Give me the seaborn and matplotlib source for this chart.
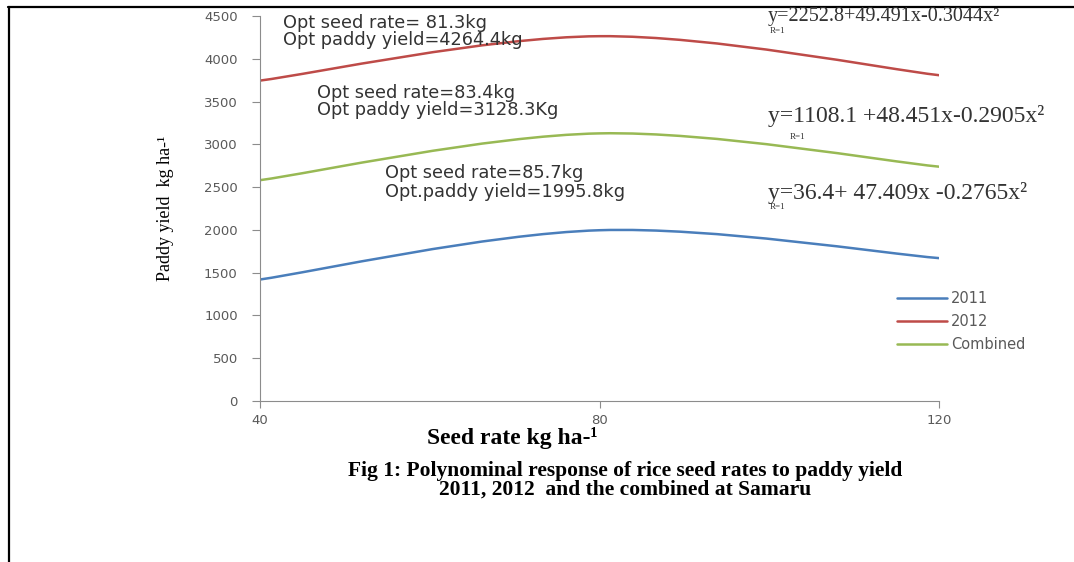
import numpy as np
import pandas as pd
import matplotlib
matplotlib.use("Agg")
import matplotlib.pyplot as plt
from matplotlib.path import Path
from matplotlib.patches import PathPatch
from matplotlib.lines import Line2D
import seaborn as sns

# Donnees
seed_rate = [40, 80, 120]
yield_2011 = [1420, 1996, 1670]
yield_2012 = [3745, 4264, 3808]
yield_combined = [2581, 3128, 2739]
series_names = ["2011", "2012", "Combined"]
series_colors = ["#4A7EBB", "#BE4B48", "#98B954"]
y_ticks = list(range(0, 4501, 500))
x_ticks = [40, 80, 120]

df = pd.DataFrame({
    "seed": seed_rate * 3,
    "yield": yield_2011 + yield_2012 + yield_combined,
    "season": [s for s in series_names for _ in seed_rate],
})

sns.set_style("white")
plt.rcParams["font.family"] = ["DejaVu Sans"]

W, H = 1074, 562
fig = plt.figure(figsize=(W / 100, H / 100), dpi=100)
ax = fig.add_axes([260 / W, 1 - 401 / H, 679 / W, 385 / H])


def smooth_path(xs, ys):
    # courbe lissee type Excel (Catmull-Rom -> Bezier) passant par les points
    pts = np.column_stack([xs, ys]).astype(float)
    n = len(pts)
    verts = [pts[0]]
    codes = [Path.MOVETO]
    for i in range(n - 1):
        p0 = pts[max(i - 1, 0)]
        p1 = pts[i]
        p2 = pts[i + 1]
        p3 = pts[min(i + 2, n - 1)]
        verts += [p1 + (p2 - p0) / 6, p2 - (p3 - p1) / 6, p2]
        codes += [Path.CURVE4] * 3
    return Path(verts, codes)


sns.lineplot(data=df, x="seed", y="yield", hue="season", hue_order=series_names,
             palette=series_colors, lw=1.8, ax=ax, legend=False)
for line in list(ax.lines):
    p = smooth_path(line.get_xdata(), line.get_ydata())
    ax.add_patch(PathPatch(p, fill=False, edgecolor=line.get_color(),
                           lw=line.get_linewidth(), capstyle="round"))
    line.set_visible(False)

ax.set_xlim(40, 120)
ax.set_ylim(0, 4500)
ax.set_xticks(x_ticks)
ax.set_yticks(y_ticks)
for s in ["top", "right"]:
    ax.spines[s].set_visible(False)
for s in ["left", "bottom"]:
    ax.spines[s].set_color("#8c8c8c")
    ax.spines[s].set_linewidth(0.8)
ax.tick_params(axis="y", direction="out", length=6, width=0.8, color="#8c8c8c",
               labelcolor="#595959", labelsize=9.5, pad=10, left=True)
ax.tick_params(axis="x", direction="out", length=5, width=0.8, color="#8c8c8c",
               labelcolor="#595959", labelsize=9.5, pad=4, bottom=True)

ax.set_ylabel("Paddy yield  kg ha-¹", family="Liberation Serif", fontsize=13, color="black")
ax.yaxis.set_label_coords(-0.126, 0.5)
ax.set_xlabel("Seed rate kg ha-¹", family="Liberation Serif",
              fontsize=17, fontweight="bold", color="black")
ax.xaxis.set_label_coords(0.371, -0.067)

# legende
handles = [Line2D([], [], color=c, lw=1.8) for c in series_colors]
ax.legend(handles, series_names, loc="upper left", bbox_to_anchor=(897 / W, 1 - 291 / H),
          bbox_transform=fig.transFigure, frameon=False, fontsize=10.5, handlelength=3.4,
          handletextpad=0.3, labelspacing=0.55, borderpad=0, borderaxespad=0,
          labelcolor="#595959")


def ftext(x, y, s, **kw):
    fig.text(x / W, 1 - y / H, s, va="center", **kw)


note = dict(fontsize=12.8, color="#333333")
ftext(283, 23, "Opt seed rate= 81.3kg", **note)
ftext(283, 40, "Opt paddy yield=4264.4kg", **note)
ftext(317, 93, "Opt seed rate=83.4kg", **note)
ftext(317, 110, "Opt paddy yield=3128.3Kg", **note)
ftext(385, 173, "Opt seed rate=85.7kg", **note)
ftext(385, 192, "Opt.paddy yield=1995.8kg", **note)

eq = dict(family="Liberation Serif", color="#333333")
ftext(768, 16, "y=2252.8+49.491x-0.3044x²", fontsize=14.5, **eq)
ftext(770, 31, "R=1", fontsize=6.5, **eq)
ftext(768, 116, "y=1108.1 +48.451x-0.2905x²", fontsize=17, **eq)
ftext(790, 137, "R=1", fontsize=6.5, **eq)
ftext(768, 193, "y=36.4+ 47.409x -0.2765x²", fontsize=17, **eq)
ftext(770, 207, "R=1", fontsize=6.5, **eq)

cap = dict(family="Liberation Serif", fontsize=15.5, fontweight="bold", color="black", ha="center")
ftext(625, 471, "Fig 1: Polynominal response of rice seed rates to paddy yield", **cap)
ftext(625, 490, "2011, 2012  and the combined at Samaru", **cap)

# cadre de la page
fig.add_artist(Line2D([8 / W, 1], [1 - 7 / H, 1 - 7 / H], color="black", lw=1.6,
                      transform=fig.transFigure))
fig.add_artist(Line2D([8.5 / W, 8.5 / W], [0, 1 - 7 / H], color="black", lw=1.6,
                      transform=fig.transFigure))

fig.savefig("out.png", dpi=100, facecolor="white")
